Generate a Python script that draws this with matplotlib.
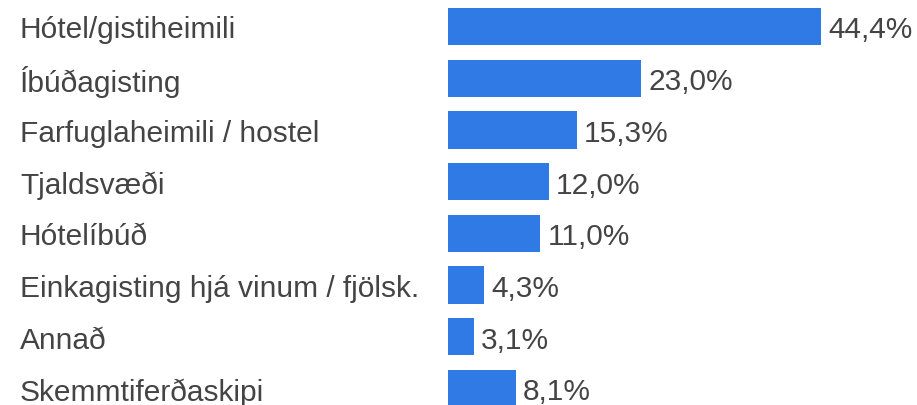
import matplotlib.pyplot as plt
import matplotlib.transforms as mtransforms

categories = ["Hótel/gistiheimili", "Íbúðagisting", "Farfuglaheimili / hostel",
              "Tjaldsvæði", "Hótelíbúð", "Einkagisting hjá vinum / fjölsk.",
              "Annað", "Skemmtiferðaskipi"]
values = [44.4, 23.0, 15.3, 12.0, 11.0, 4.3, 3.1, 8.1]

plt.rcParams['font.family'] = ['Liberation Sans', 'DejaVu Sans']

W, H = 917, 406
fig = plt.figure(figsize=(W / 100, H / 100), dpi=100)
ax = fig.add_axes([448 / W, 0, 1 - 448 / W, 1])

y = list(range(len(categories)))
ax.barh(y, values, height=0.72, color='#2f7ae5')
ax.set_xlim(0, (W - 448) / 8.4)
ax.set_ylim((H - 27.5) / 51.7, -27.5 / 51.7)
ax.axis('off')

trans = mtransforms.blended_transform_factory(fig.transFigure, ax.transData)
for i, (cat, v) in enumerate(zip(categories, values)):
    ax.text(20 / W, i, cat, transform=trans, ha='left', va='center_baseline',
            fontsize=21.5, color='#444444')
    ax.annotate(f"{v:.1f}".replace('.', ',') + '%', (v, i), xytext=(5, 0),
                textcoords='offset points', ha='left', va='center_baseline',
                fontsize=21.5, color='#444444')

fig.savefig('out.png', dpi=100)
